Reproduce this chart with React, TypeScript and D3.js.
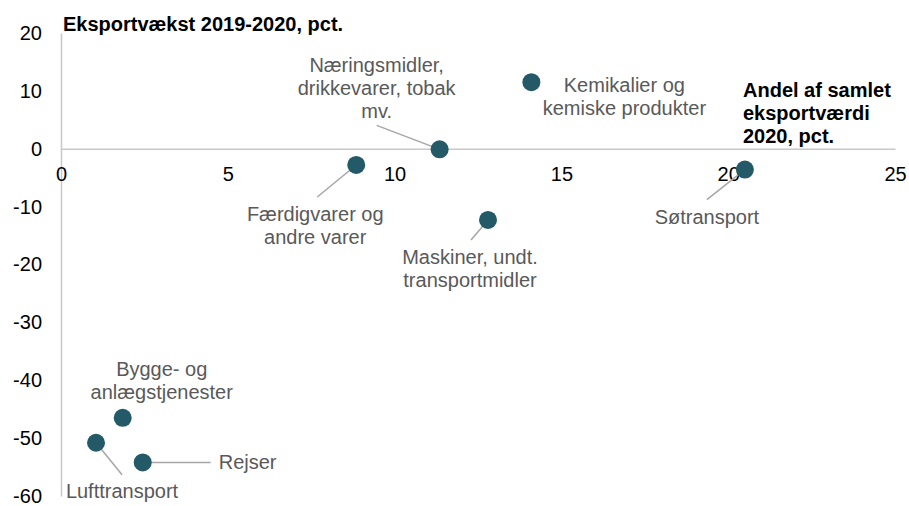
import React, { useEffect, useRef } from "react";
import * as d3 from "d3";

// Sectors: share of total export value 2020 (x) and export growth 2019-2020 (y)
const sectors = [
  "Næringsmidler, drikkevarer, tobak mv.",
  "Færdigvarer og andre varer",
  "Kemikalier og kemiske produkter",
  "Søtransport",
  "Maskiner, undt. transportmidler",
  "Bygge- og anlægstjenester",
  "Lufttransport",
  "Rejser",
];
const shares = [11.35, 8.85, 14.1, 20.5, 12.8, 1.85, 1.05, 2.45];
const growth = [-0.1, -2.8, 11.5, -3.6, -12.3, -46.5, -50.8, -54.2];

const xTicks = [0, 5, 10, 15, 20, 25];
const yTicks = [20, 10, 0, -10, -20, -30, -40, -50, -60];

// label layout: lines, label block centre offset from point (px), leader end offset (px) or null
const labelLayout: Record<string, { lines: string[]; dx: number; dy: number; anchor: string; lead: [number, number] | null }> = {
  "Næringsmidler, drikkevarer, tobak mv.": { lines: ["Næringsmidler,", "drikkevarer, tobak", "mv."], dx: -63, dy: -61, anchor: "middle", lead: [-63, -24] },
  "Færdigvarer og andre varer": { lines: ["Færdigvarer og", "andre varer"], dx: -41, dy: 61, anchor: "middle", lead: [-39, 32] },
  "Kemikalier og kemiske produkter": { lines: ["Kemikalier og", "kemiske produkter"], dx: 93, dy: 14, anchor: "middle", lead: null },
  "Søtransport": { lines: ["Søtransport"], dx: -38, dy: 47, anchor: "middle", lead: [-38, 30] },
  "Maskiner, undt. transportmidler": { lines: ["Maskiner, undt.", "transportmidler"], dx: -18, dy: 49, anchor: "middle", lead: [-17, 20] },
  "Bygge- og anlægstjenester": { lines: ["Bygge- og", "anlægstjenester"], dx: 39, dy: -37, anchor: "middle", lead: null },
  "Lufttransport": { lines: ["Lufttransport"], dx: 26, dy: 48, anchor: "middle", lead: [26, 32] },
  "Rejser": { lines: ["Rejser"], dx: 76, dy: 0, anchor: "start", lead: [68, 0] },
};

const W = 909;
const H = 506;

export default function App() {
  const ref = useRef<SVGSVGElement>(null);

  useEffect(() => {
    const svg = d3.select(ref.current);
    svg.selectAll("*").remove();

    const x = d3.scaleLinear().domain([0, 25]).range([61, 895]);
    const y = d3.scaleLinear().domain([-60, 20]).range([496, 33]);

    const font = "'Liberation Sans', Arial, sans-serif";
    // plain hyphen for negatives, as in the original
    const fmt = (d: d3.NumberValue) => String(d);

    // y axis
    const yAxis = svg.append("g")
      .attr("transform", `translate(${x(0)},0)`)
      .call(d3.axisLeft(y).tickValues(yTicks).tickSize(0).tickPadding(19).tickFormat(fmt));
    yAxis.select(".domain").attr("stroke", "#c8c8c8").attr("stroke-width", 1.5);
    yAxis.selectAll("text")
      .style("font-family", font).style("font-size", "20px").attr("fill", "#000");

    // x axis crossing at 0
    const xAxis = svg.append("g")
      .attr("transform", `translate(0,${y(0)})`)
      .call(d3.axisBottom(x).tickValues(xTicks).tickSize(0).tickPadding(18).tickFormat(fmt));
    xAxis.select(".domain").attr("stroke", "#c8c8c8").attr("stroke-width", 1.5);
    xAxis.selectAll("text")
      .style("font-family", font).style("font-size", "20px").attr("fill", "#000");

    // titles
    svg.append("text")
      .attr("x", 63).attr("y", 31)
      .style("font-family", font).style("font-size", "20px").style("font-weight", "bold")
      .text("Eksportvækst 2019-2020, pct.");

    const xt = svg.append("text")
      .attr("x", 743).attr("y", 97)
      .style("font-family", font).style("font-size", "20px").style("font-weight", "bold");
    ["Andel af samlet", "eksportværdi", "2020, pct."].forEach((t, i) => {
      xt.append("tspan").attr("x", 743).attr("dy", i === 0 ? 0 : 23).text(t);
    });

    const pts = sectors.map((s, i) => ({ name: s, px: x(shares[i]), py: y(growth[i]) }));

    // leader lines
    svg.append("g").selectAll("line")
      .data(pts.filter(d => labelLayout[d.name].lead))
      .enter().append("line")
      .attr("x1", d => d.px).attr("y1", d => d.py)
      .attr("x2", d => d.px + labelLayout[d.name].lead![0])
      .attr("y2", d => d.py + labelLayout[d.name].lead![1])
      .attr("stroke", "#a6a6a6").attr("stroke-width", 1.5);

    // points
    svg.append("g").selectAll("circle")
      .data(pts)
      .enter().append("circle")
      .attr("cx", d => d.px).attr("cy", d => d.py).attr("r", 9)
      .attr("fill", "#245968");

    // labels
    pts.forEach(d => {
      const l = labelLayout[d.name];
      const lh = 23;
      const top = d.py + l.dy - ((l.lines.length - 1) * lh) / 2;
      const t = svg.append("text")
        .attr("text-anchor", l.anchor)
        .style("font-family", font).style("font-size", "20px")
        .attr("fill", "#595959");
      l.lines.forEach((line, i) => {
        t.append("tspan")
          .attr("x", d.px + l.dx)
          .attr("y", top + i * lh)
          .attr("dy", "0.35em")
          .text(line);
      });
    });
  }, []);

  return (
    <svg
      ref={ref}
      width={W}
      height={H}
      style={{ position: "absolute", left: 0, top: 0, background: "#fff" }}
    />
  );
}
